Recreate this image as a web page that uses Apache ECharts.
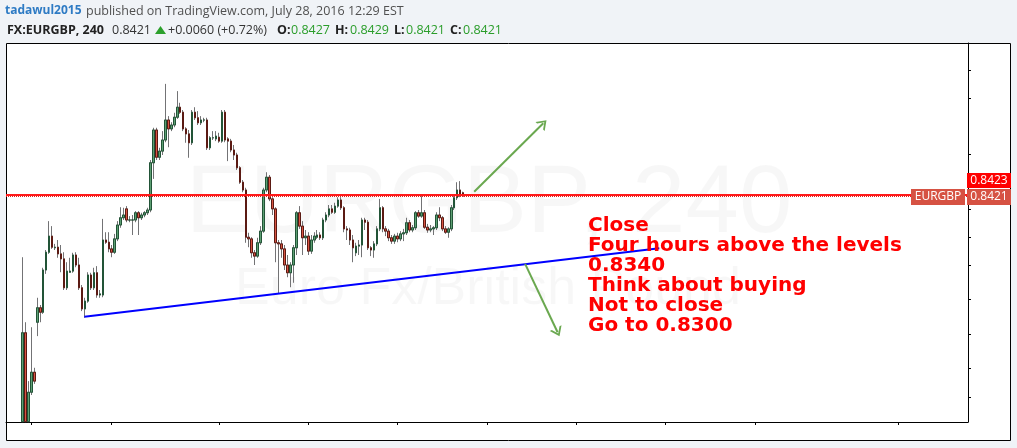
<!DOCTYPE html>
<html><head><meta charset="utf-8">
<script src="https://cdn.jsdelivr.net/npm/echarts@6/dist/echarts.min.js"></script>
<style>html,body{margin:0;padding:0;background:#f0f3f7;}#chart{width:1017px;height:448px;}</style>
</head><body><div id="chart"></div>
<script>
// ---- data (4h candles, FX:EURGBP) ----
const totalSlots = 323;      // category slots across the visible time range
const leadSlots = 5;         // empty slots before the first visible candle
const open = [
0.8015,0.8175,0.8015,0.8068,0.8104,0.8194,0.8220,0.8212,0.8288,0.8320,
0.8349,0.8328,0.8329,0.8317,0.8308,0.8256,0.8284,0.8286,0.8315,0.8297,
0.8256,0.8218,0.8232,0.8279,0.8256,0.8283,0.8243,0.8243,0.8342,0.8338,
0.8326,0.8320,0.8344,0.8369,0.8382,0.8398,0.8378,0.8378,0.8378,0.8391,
0.8382,0.8387,0.8391,0.8396,0.8481,0.8540,0.8491,0.8502,0.8522,0.8558,
0.8542,0.8549,0.8563,0.8581,0.8572,0.8542,0.8533,0.8517,0.8572,0.8562,
0.8553,0.8558,0.8558,0.8508,0.8526,0.8524,0.8527,0.8520,0.8572,0.8524,
0.8520,0.8504,0.8495,0.8472,0.8446,0.8432,0.8347,0.8344,0.8319,0.8313,
0.8337,0.8358,0.8432,0.8455,0.8416,0.8398,0.8337,0.8335,0.8326,0.8297,
0.8283,0.8297,0.8328,0.8391,0.8367,0.8346,0.8349,0.8322,0.8342,0.8347,
0.8351,0.8346,0.8378,0.8387,0.8398,0.8392,0.8403,0.8414,0.8400,0.8362,
0.8360,0.8342,0.8319,0.8331,0.8333,0.8378,0.8374,0.8328,0.8324,0.8335,
0.8362,0.8400,0.8362,0.8358,0.8346,0.8340,0.8349,0.8344,0.8353,0.8355,
0.8373,0.8360,0.8364,0.8391,0.8385,0.8391,0.8365,0.8360,0.8362,0.8364,
0.8387,0.8382,0.8362,0.8356,0.8362,0.8400,0.8418,0.8432,0.8427];
const close = [
0.8175,0.8015,0.8068,0.8104,0.8088,0.8220,0.8212,0.8288,0.8320,0.8349,
0.8329,0.8329,0.8317,0.8308,0.8256,0.8286,0.8286,0.8315,0.8297,0.8256,
0.8218,0.8232,0.8279,0.8256,0.8283,0.8243,0.8245,0.8342,0.8338,0.8326,
0.8320,0.8344,0.8369,0.8382,0.8387,0.8378,0.8378,0.8378,0.8391,0.8382,
0.8387,0.8391,0.8396,0.8481,0.8540,0.8491,0.8502,0.8522,0.8558,0.8542,
0.8549,0.8563,0.8581,0.8572,0.8542,0.8533,0.8517,0.8572,0.8562,0.8553,
0.8558,0.8558,0.8508,0.8526,0.8526,0.8529,0.8520,0.8572,0.8522,0.8520,
0.8504,0.8495,0.8472,0.8446,0.8432,0.8347,0.8344,0.8319,0.8313,0.8337,
0.8358,0.8432,0.8455,0.8416,0.8398,0.8337,0.8335,0.8326,0.8297,0.8283,
0.8297,0.8328,0.8391,0.8367,0.8346,0.8349,0.8322,0.8342,0.8349,0.8351,
0.8346,0.8378,0.8387,0.8398,0.8392,0.8403,0.8414,0.8400,0.8362,0.8360,
0.8342,0.8328,0.8331,0.8333,0.8378,0.8374,0.8328,0.8324,0.8335,0.8362,
0.8400,0.8362,0.8358,0.8346,0.8340,0.8349,0.8344,0.8353,0.8355,0.8373,
0.8360,0.8364,0.8391,0.8385,0.8391,0.8365,0.8360,0.8362,0.8364,0.8387,
0.8382,0.8362,0.8356,0.8362,0.8400,0.8418,0.8432,0.8423,0.8421];
const low = [
0.8015,0.8015,0.8015,0.8063,0.8083,0.8169,0.8194,0.8209,0.8281,0.8317,
0.8326,0.8324,0.8310,0.8284,0.8252,0.8252,0.8283,0.8283,0.8293,0.8252,
0.8214,0.8202,0.8229,0.8252,0.8252,0.8238,0.8238,0.8239,0.8335,0.8320,
0.8311,0.8317,0.8340,0.8364,0.8378,0.8374,0.8374,0.8351,0.8374,0.8351,
0.8378,0.8383,0.8387,0.8392,0.8452,0.8486,0.8486,0.8495,0.8518,0.8509,
0.8538,0.8545,0.8560,0.8569,0.8538,0.8517,0.8490,0.8513,0.8558,0.8549,
0.8549,0.8554,0.8504,0.8504,0.8522,0.8520,0.8517,0.8517,0.8518,0.8484,
0.8500,0.8486,0.8468,0.8443,0.8428,0.8337,0.8329,0.8310,0.8297,0.8310,
0.8333,0.8355,0.8428,0.8412,0.8387,0.8302,0.8245,0.8310,0.8288,0.8275,
0.8257,0.8265,0.8315,0.8362,0.8315,0.8333,0.8315,0.8317,0.8337,0.8344,
0.8342,0.8342,0.8374,0.8383,0.8389,0.8389,0.8400,0.8396,0.8356,0.8342,
0.8333,0.8302,0.8313,0.8315,0.8311,0.8360,0.8324,0.8313,0.8310,0.8331,
0.8358,0.8356,0.8349,0.8340,0.8335,0.8335,0.8338,0.8340,0.8340,0.8351,
0.8356,0.8356,0.8360,0.8382,0.8382,0.8362,0.8355,0.8356,0.8351,0.8360,
0.8376,0.8358,0.8353,0.8346,0.8358,0.8396,0.8414,0.8419,0.8421];
const high = [
0.8311,0.8194,0.8088,0.8185,0.8112,0.8238,0.8225,0.8292,0.8324,0.8376,
0.8367,0.8335,0.8342,0.8333,0.8320,0.8302,0.8310,0.8319,0.8320,0.8310,
0.8261,0.8238,0.8284,0.8283,0.8292,0.8295,0.8252,0.8380,0.8356,0.8356,
0.8333,0.8353,0.8376,0.8401,0.8400,0.8403,0.8385,0.8387,0.8394,0.8394,
0.8391,0.8394,0.8400,0.8486,0.8544,0.8544,0.8508,0.8538,0.8623,0.8565,
0.8554,0.8571,0.8610,0.8589,0.8576,0.8545,0.8540,0.8576,0.8581,0.8574,
0.8565,0.8562,0.8562,0.8529,0.8538,0.8538,0.8535,0.8576,0.8576,0.8527,
0.8524,0.8513,0.8499,0.8475,0.8450,0.8436,0.8355,0.8347,0.8324,0.8346,
0.8367,0.8436,0.8464,0.8459,0.8419,0.8401,0.8342,0.8342,0.8333,0.8315,
0.8302,0.8333,0.8394,0.8403,0.8376,0.8360,0.8356,0.8351,0.8356,0.8360,
0.8356,0.8382,0.8392,0.8405,0.8405,0.8409,0.8419,0.8419,0.8403,0.8367,
0.8364,0.8351,0.8337,0.8342,0.8382,0.8382,0.8378,0.8331,0.8340,0.8367,
0.8416,0.8403,0.8367,0.8362,0.8351,0.8353,0.8355,0.8358,0.8362,0.8382,
0.8378,0.8369,0.8394,0.8396,0.8421,0.8396,0.8371,0.8369,0.8367,0.8392,
0.8401,0.8385,0.8367,0.8365,0.8405,0.8421,0.8446,0.8448,0.8429];
const weekTicks = [8, 35, 71, 101, 131, 161, 191, 221, 251, 299];
const priceTicks = [0.8648, 0.8598, 0.8497, 0.8398, 0.8347, 0.8297, 0.8236, 0.8173, 0.8112, 0.8059];
const priceMin = 0.80144, priceMax = 0.86966;
const levelPrice = 0.8423;
const lastPrice = 0.8421;
const symbolName = 'EURGBP';
// drawings (x in slot units, y in price)
const trendLine = [[25.8, 0.8204], [218.85, 0.8327]];
const arrowUp = [[156.7, 0.8429], [179.9, 0.8552]];
const arrowDown = [[173.8, 0.8299], [184.7, 0.8176]];
const noteLines = ['Close', 'Four hours above the levels', '0.8340', 'Think about buying', 'Not to close', 'Go to 0.8300'];
const headerLine1 = ['tadawul2015', 'published on TradingView.com, July 28, 2016 12:29 EST'];
const headerQuote = {sym: 'FX:EURGBP, 240', last: '0.8421', chg: '+0.0060 (+0.72%)', O: '0.8427', H: '0.8429', L: '0.8421', C: '0.8421'};

// ---- build ----
const slots = [];
const ohlc = [], bodies = [];
for (let i = 0; i < totalSlots; i++) {
  slots.push(String(i));
  const k = i - leadSlots;
  if (k >= 0 && k < open.length) {
    ohlc.push([open[k], close[k], low[k], high[k]]);
    bodies.push([open[k], close[k], Math.min(open[k], close[k]), Math.max(open[k], close[k])]);
  } else {
    ohlc.push(['-', '-', '-', '-']);
    bodies.push(['-', '-', '-', '-']);
  }
}
const upFill = '#5d9f73', upBorder = '#225437', downFill = '#d75442', downBorder = '#5b1a13', wick = '#737375';
const arrowGreen = '#6aa84f';
const chevron = 'path://M0,10L5,0L10,10L8.3,10L5,3.4L1.7,10Z';
const FONT = '"Open Sans", "Liberation Sans", sans-serif';
const CW = 2.0;

const chart = echarts.init(document.getElementById('chart'));
chart.setOption({
  animation: false,
  backgroundColor: '#f0f3f7',
  grid: {left: 6, right: 49, top: 43, bottom: 26},
  xAxis: [
    {type: 'category', data: slots, boundaryGap: true, show: false},
    {type: 'value', min: -0.5, max: totalSlots - 0.5, position: 'bottom',
     axisLine: {show: true, onZero: false, lineStyle: {color: '#000', width: 1}},
     axisTick: {show: true, length: 3, lineStyle: {color: '#000'}, customValues: weekTicks},
     axisLabel: {show: false}, splitLine: {show: false}}
  ],
  yAxis: {type: 'value', position: 'right', min: priceMin, max: priceMax,
    axisLine: {show: true, onZero: false, lineStyle: {color: '#000', width: 1}},
    axisTick: {show: true, length: 3, lineStyle: {color: '#000'}, customValues: priceTicks},
    axisLabel: {show: false}, splitLine: {show: false}},
  series: [
    {type: 'candlestick', xAxisIndex: 0, data: ohlc, barWidth: CW, clip: true, silent: true, z: 3,
     itemStyle: {color: upFill, color0: downFill, borderColor: wick, borderColor0: wick, borderWidth: 1}},
    {type: 'candlestick', xAxisIndex: 0, data: bodies, barWidth: CW, clip: true, silent: true, z: 4,
     itemStyle: {color: upFill, color0: downFill, borderColor: upBorder, borderColor0: downBorder, borderWidth: 1}},
    {type: 'line', xAxisIndex: 1, yAxisIndex: 0, data: [], silent: true, z: 5,
     markLine: {silent: true, symbol: ['none', 'none'], label: {show: false}, animation: false,
       data: [
         [{coord: [-0.5, levelPrice], lineStyle: {color: '#ff1a1a', width: 2, type: 'solid'}}, {coord: [totalSlots - 0.5, levelPrice]}],
         [{coord: [-0.5, lastPrice], lineStyle: {color: '#e02020', width: 1, type: 'dotted'}}, {coord: [totalSlots - 0.5, lastPrice]}],
         [{coord: trendLine[0], lineStyle: {color: '#0000ff', width: 2, type: 'solid'}}, {coord: trendLine[1]}],
         [{coord: arrowUp[0], lineStyle: {color: arrowGreen, width: 2, type: 'solid'}}, {coord: arrowUp[1], symbol: chevron, symbolSize: [13, 9]}],
         [{coord: arrowDown[0], lineStyle: {color: arrowGreen, width: 2, type: 'solid'}}, {coord: arrowDown[1], symbol: chevron, symbolSize: [13, 9]}]
       ]}}
  ]
});

const yLast = chart.convertToPixel({yAxisIndex: 0}, lastPrice);
const gridRight = chart.convertToPixel({xAxisIndex: 1}, totalSlots - 0.5);
const lastTop = Math.round(yLast) - 7;
const levelTop = lastTop - 16;

function txt(text, x, y, fill, size, weight, extra) {
  return Object.assign({type: 'text', z: 100, style: Object.assign({text: text, x: x, y: y, fill: fill,
    font: (weight || 'normal') + ' ' + size + 'px ' + FONT, verticalAlign: 'middle'}, extra && extra.style || {})}, extra && extra.el || {});
}
const green = '#2a9d2a';
const HF = 12.5;
const graphics = [
  {type: 'rect', z: -10, silent: true, shape: {x: 6.5, y: 43.5, width: 1004, height: 397}, style: {fill: '#ffffff', stroke: '#000', lineWidth: 1}},
  {type: 'text', z: -5, silent: true, style: {text: 'EURGBP, 240', x: 489, y: 206, textAlign: 'center', verticalAlign: 'middle', fill: 'rgba(0,0,0,0.03)', font: 'normal 96px "Liberation Sans", sans-serif'}},
  {type: 'text', z: -5, silent: true, style: {text: 'Euro Fx/British Pound', x: 488, y: 290, textAlign: 'center', verticalAlign: 'middle', fill: 'rgba(0,0,0,0.03)', font: 'normal 52px "Liberation Sans", sans-serif'}},
  txt(headerLine1[0], 5, 11, '#2e7bc4', 12, 'bold'),
  txt(headerLine1[1], 86, 11, '#505050', HF, 'normal'),
  txt(headerQuote.sym, 7, 30, '#222', HF, 'bold'),
  txt(headerQuote.last, 112, 30, '#333', HF, 'normal'),
  {type: 'polygon', z: 100, shape: {points: [[155, 34], [160.5, 26], [166, 34]]}, style: {fill: '#2ca02c'}},
  txt(headerQuote.chg, 168, 30, '#333', HF, 'normal'),
  txt('O:', 277, 30, '#222', HF, 'bold'), txt(headerQuote.O, 291, 30, green, HF, 'normal'),
  txt('H:', 335, 30, '#222', HF, 'bold'), txt(headerQuote.H, 350, 30, green, HF, 'normal'),
  txt('L:', 394, 30, '#222', HF, 'bold'), txt(headerQuote.L, 406, 30, green, HF, 'normal'),
  txt('C:', 450, 30, '#222', HF, 'bold'), txt(headerQuote.C, 463, 30, green, HF, 'normal'),
  {type: 'text', z: 100, silent: true, style: {text: noteLines.join('\n'), x: 588, y: 216, fill: '#ff0000', font: 'bold 20px "DejaVu Sans", sans-serif', lineHeight: 20, verticalAlign: 'top'}},
  {type: 'rect', z: 100, shape: {x: gridRight - 1, y: levelTop, width: 44, height: 15}, style: {fill: '#ff0000'}},
  txt(levelPrice.toFixed(4), gridRight + 21, levelTop + 7.5, '#fff', 12, 'normal', {style: {textAlign: 'center'}}),
  {type: 'rect', z: 100, shape: {x: gridRight - 1, y: lastTop, width: 44, height: 16}, style: {fill: '#d65243'}},
  txt(lastPrice.toFixed(4), gridRight + 21, lastTop + 8, '#fff', 12, 'normal', {style: {textAlign: 'center'}}),
  {type: 'rect', z: 100, shape: {x: gridRight - 57, y: lastTop, width: 54, height: 16}, style: {fill: '#d65243'}},
  txt(symbolName, gridRight - 30, lastTop + 8, '#fff', 12, 'normal', {style: {textAlign: 'center'}})
];
chart.setOption({graphic: graphics});
</script></body></html>
